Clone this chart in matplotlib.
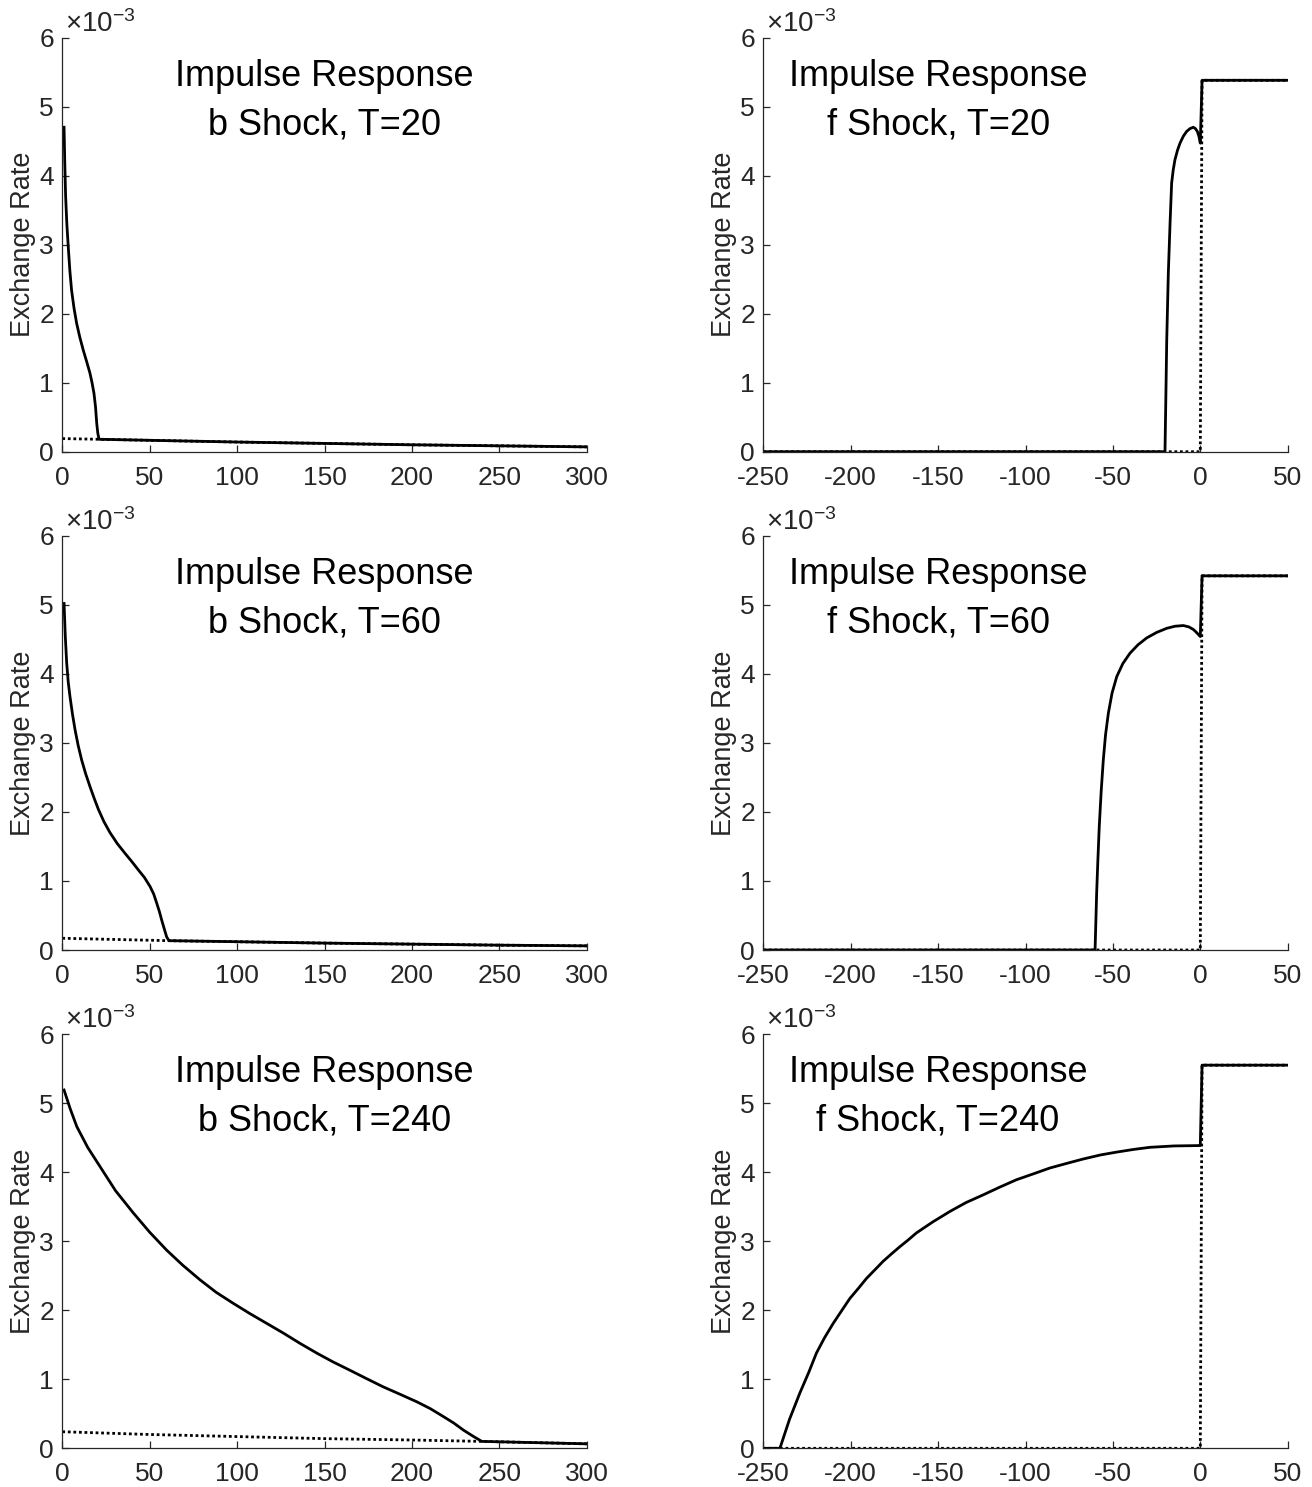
import matplotlib
matplotlib.use("Agg")
import matplotlib.pyplot as plt

plt.rcParams['font.family'] = ['Liberation Sans', 'DejaVu Sans']
plt.rcParams['mathtext.fontset'] = 'custom'
plt.rcParams['mathtext.rm'] = 'Liberation Sans'
plt.rcParams['axes.unicode_minus'] = False

# ---- data (values in units of 1e-3) ----
# b shock, T=20
b20_x = [1, 1.4, 1.9, 2.6, 3.4, 4.3, 5.3, 6.7, 8.2, 10, 12, 14, 15.8, 17, 18.1, 19, 19.7, 20.3, 21,
         50, 100, 150, 200, 250, 300]
b20_y = [4.70, 4.20, 3.70, 3.30, 2.97, 2.63, 2.34, 2.08, 1.86, 1.66, 1.47, 1.30, 1.14, 1.00, 0.85, 0.65, 0.41, 0.27, 0.18,
         0.165, 0.14, 0.12, 0.10, 0.085, 0.07]
b20_px = [0, 21, 50, 100, 150, 200, 250, 300]
b20_py = [0.19, 0.18, 0.165, 0.14, 0.12, 0.10, 0.085, 0.07]

# b shock, T=60
b60_x = [1, 1.7, 2.5, 3.4, 4.4, 5.8, 7.3, 9.1, 11.1, 13.4, 15.8, 18.2, 20.6, 23.8, 27.3, 31.5, 35.9, 39.8,
         43.5, 47, 50.2, 52.3, 54, 55.5, 56.9, 58.4, 59.7, 61, 100, 150, 200, 250, 300]
b60_y = [5.02, 4.55, 4.16, 3.88, 3.67, 3.42, 3.19, 2.96, 2.75, 2.55, 2.37, 2.20, 2.04, 1.86, 1.70, 1.54, 1.40, 1.28,
         1.16, 1.05, 0.92, 0.81, 0.68, 0.56, 0.43, 0.30, 0.19, 0.135, 0.12, 0.10, 0.085, 0.07, 0.06]
b60_px = [0, 61, 100, 150, 200, 250, 300]
b60_py = [0.17, 0.135, 0.12, 0.10, 0.085, 0.07, 0.06]

# b shock, T=240
b240_x = [1, 4.5, 8.3, 14.5, 21.6, 30.5, 40.6, 50, 59.7, 69, 78.8, 88, 97.8, 107.4, 116.9, 126.4, 136,
          145.5, 155, 164.6, 174, 183.6, 193, 202.7, 210.5, 218, 224, 229.4, 235, 240, 300]
b240_y = [5.19, 4.92, 4.66, 4.36, 4.08, 3.73, 3.41, 3.13, 2.87, 2.65, 2.44, 2.26, 2.10, 1.95, 1.81, 1.67, 1.52,
          1.38, 1.25, 1.13, 1.01, 0.89, 0.785, 0.675, 0.575, 0.46, 0.365, 0.265, 0.175, 0.10, 0.065]
b240_px = [0, 50, 100, 150, 200, 240, 300]
b240_py = [0.24, 0.20, 0.17, 0.14, 0.12, 0.10, 0.065]

# f shock, T=20
f20_x = [-250, -20.2, -19.7, -19.2, -18.3, -17.3, -16.4, -15.5, -14.5, -13, -11.6, -9.7, -7.8, -5.9, -4.0,
         -2.8, -1.7, -0.8, 0, 1, 50]
f20_y = [0, 0, 0.80, 1.62, 2.58, 3.31, 3.89, 4.08, 4.23, 4.37, 4.47, 4.57, 4.64, 4.68, 4.70,
         4.68, 4.64, 4.57, 4.47, 5.38, 5.38]
f20_px = [-250, 0, 1, 50]
f20_py = [0, 0, 5.38, 5.38]

# f shock, T=60
f60_x = [-250, -60.2, -59.3, -58.6, -57.8, -56.7, -55.5, -54.2, -52.6, -50.5, -47.8, -44.3, -40.2, -35.7,
         -30.7, -25, -19.2, -14.5, -9.7, -6.5, -3.8, -1.8, 0, 1, 50]
f60_y = [0, 0, 0.82, 1.30, 1.79, 2.30, 2.75, 3.12, 3.43, 3.72, 3.96, 4.15, 4.30, 4.42,
         4.52, 4.60, 4.66, 4.69, 4.70, 4.68, 4.64, 4.59, 4.54, 5.42, 5.42]
f60_px = [-250, 0, 1, 50]
f60_py = [0, 0, 5.42, 5.42]

# f shock, T=240
f240_x = [-250, -240.5, -235, -229.1, -224, -219.6, -215, -210, -205, -200.5, -195.5, -191, -186, -181.4,
          -176.5, -171.9, -167, -162.4, -153, -143.3, -134, -124.3, -115, -105.2, -95, -86.1, -76, -67.1,
          -57, -48, -38, -28.8, -15, -1.1, 0, 1, 50]
f240_y = [0, 0, 0.42, 0.80, 1.10, 1.38, 1.60, 1.81, 2.00, 2.17, 2.32, 2.46, 2.59, 2.71,
          2.82, 2.92, 3.02, 3.12, 3.28, 3.43, 3.56, 3.67, 3.78, 3.89, 3.98, 4.06, 4.13, 4.19,
          4.25, 4.29, 4.33, 4.36, 4.38, 4.385, 4.385, 5.55, 5.55]
f240_px = [-250, 0, 1, 50]
f240_py = [0, 0, 5.55, 5.55]

left_ticks = [0, 50, 100, 150, 200, 250, 300]
right_ticks = [-250, -200, -150, -100, -50, 0, 50]
y_ticks = [0, 1, 2, 3, 4, 5, 6]

panels = [
    (b20_x, b20_y, b20_px, b20_py, "Impulse Response\nb Shock, T=20", 'b'),
    (f20_x, f20_y, f20_px, f20_py, "Impulse Response\nf Shock, T=20", 'f'),
    (b60_x, b60_y, b60_px, b60_py, "Impulse Response\nb Shock, T=60", 'b'),
    (f60_x, f60_y, f60_px, f60_py, "Impulse Response\nf Shock, T=60", 'f'),
    (b240_x, b240_y, b240_px, b240_py, "Impulse Response\nb Shock, T=240", 'b'),
    (f240_x, f240_y, f240_px, f240_py, "Impulse Response\nf Shock, T=240", 'f'),
]

W, H = 1312, 1487
fig = plt.figure(figsize=(W / 100, H / 100), dpi=100)

col_x = [62.3, 763.3]
ax_w = 524.4
row_bottom = [451.7, 950.0, 1448.3]
ax_h = 414.2
gray = '#262626'

for i, (sx, sy, px, py, title, kind) in enumerate(panels):
    r, c = divmod(i, 2)
    ax = fig.add_axes([col_x[c] / W, 1 - row_bottom[r] / H, ax_w / W, ax_h / H])
    ax.plot(sx, sy, color='black', lw=2.0, solid_joinstyle='round')
    ax.plot(px, py, color='black', lw=2.0, linestyle=(0, (1, 1)))
    if kind == 'b':
        ax.set_xlim(0, 300)
        ax.set_xticks(left_ticks)
        tx = 150
    else:
        ax.set_xlim(-250, 50)
        ax.set_xticks(right_ticks)
        tx = -150
    ax.set_ylim(0, 6)
    ax.set_yticks(y_ticks)
    for s in ['top', 'right']:
        ax.spines[s].set_visible(False)
    for s in ['left', 'bottom']:
        ax.spines[s].set_color(gray)
        ax.spines[s].set_linewidth(0.9)
    ax.tick_params(direction='in', length=5, width=0.9, colors=gray, labelsize=19)
    ax.tick_params(axis='x', pad=10)
    ax.tick_params(axis='y', pad=6)
    ax.set_ylabel("Exchange Rate", fontsize=19.5, color=gray)
    ax.yaxis.set_label_coords(-0.05, 0.5)
    ax.text(tx, 5.09, title, ha='center', va='center', fontsize=26, linespacing=1.5, color='black')
    ax.text(0.005, 1.0, r'$\mathregular{\times10^{-3}}$', transform=ax.transAxes,
            ha='left', va='bottom', fontsize=20, color=gray)

fig.savefig("out.png", dpi=100)
